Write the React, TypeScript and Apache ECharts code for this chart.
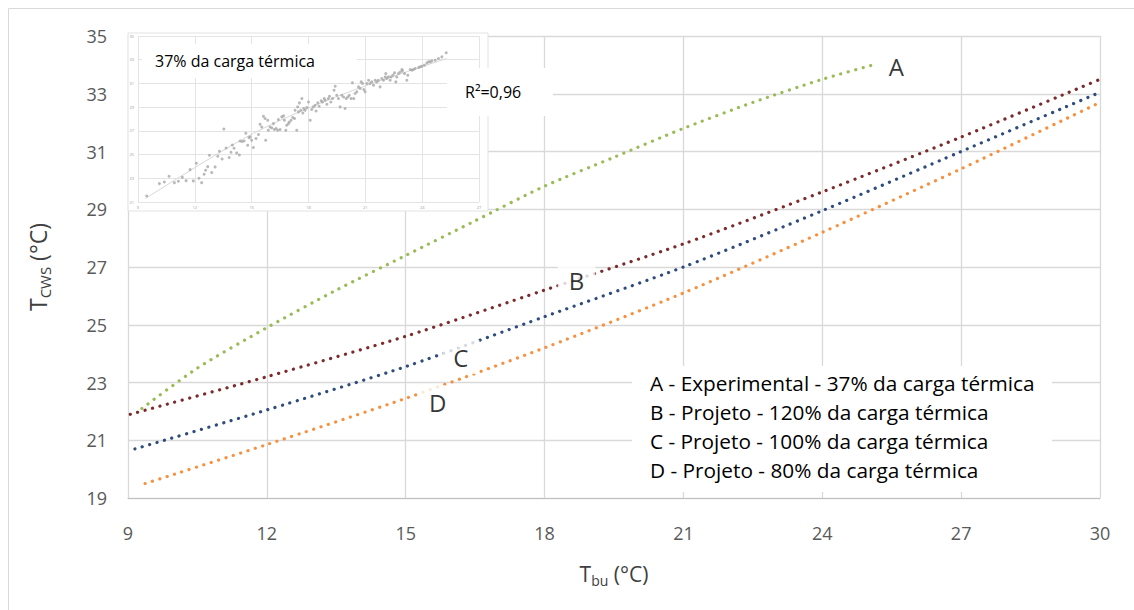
import React, { useEffect, useRef } from "react";
import * as echarts from "echarts";

const FONT = "'Open Sans', 'Noto Sans', sans-serif";

// Main axes
const xMin = 9, xMax = 30, xStep = 3;
const yMin = 19, yMax = 35, yStep = 2;

// Curve A - Experimental 37%
const aX = [9.3, 10.5, 12, 13.5, 15, 16.5, 18, 19.5, 21, 22.5, 24, 25.1];
const aY = [22.1, 23.5, 24.9, 26.2, 27.4, 28.6, 29.8, 30.8, 31.8, 32.7, 33.5, 34.0];
// Curve B - Projeto 120%
const bX = [9.05, 12, 15, 18, 21, 24, 27, 30];
const bY = [21.9, 23.2, 24.6, 26.2, 27.8, 29.6, 31.5, 33.5];
// Curve C - Projeto 100%
const cX = [9.15, 12, 15, 18, 21, 24, 27, 30];
const cY = [20.7, 22.05, 23.55, 25.28, 27.0, 28.95, 31.0, 33.05];
// Curve D - Projeto 80%
const dX = [9.37, 12, 15, 18, 21, 24, 27, 30];
const dY = [19.5, 20.85, 22.45, 24.2, 26.1, 28.2, 30.4, 32.7];

// Curve labels
const labelNames = ["A", "B", "C", "D"];
const labelX = [25.6, 18.69, 16.19, 15.69];
const labelY = [33.96, 26.52, 23.88, 22.32];

const legendLines = [
  "A - Experimental - 37% da carga térmica",
  "B - Projeto - 120% da carga térmica",
  "C - Projeto - 100% da carga térmica",
  "D - Projeto - 80% da carga térmica",
];

// Inset scatter (experimental data)
const insetX = [
  9.46, 10.13, 10.39, 10.64, 10.92, 11.13, 11.34, 11.54, 11.75, 11.92, 12.08, 12.22, 12.36, 12.49, 12.57, 12.68,
  12.77, 12.89, 13.07, 13.21, 13.3, 13.44, 13.53, 13.65, 13.81, 13.91, 13.98, 14.07, 14.21, 14.35, 14.39, 14.49,
  14.6, 14.69, 14.79, 14.86,
  14.92, 15.0, 15.09, 15.23, 15.36, 15.44, 15.53, 15.62, 15.71, 15.74, 15.85, 15.88, 15.97, 16.06, 16.15, 16.2,
  16.29, 16.38, 16.41, 16.5, 16.59, 16.68, 16.73, 16.8, 16.85, 16.94, 16.99, 17.08, 17.17, 17.26, 17.29, 17.38,
  17.43, 17.47, 17.52, 17.59, 17.65, 17.7, 17.75, 17.82, 17.91, 18.0, 18.09, 18.17, 18.26, 18.35, 18.4, 18.49,
  18.56, 18.67, 18.74, 18.83, 18.88, 18.97, 19.05, 19.11, 19.18, 19.27, 19.35, 19.41, 19.49, 19.58, 19.67, 19.76,
  19.85, 19.93, 19.99, 20.08, 20.15, 20.25, 20.32, 20.39, 20.46, 20.55, 20.64, 20.73, 20.78, 20.85, 20.92, 20.99,
  21.08, 21.17,
  21.25, 21.34, 21.43, 21.52, 21.61, 21.69, 21.78, 21.87, 21.96, 22.05, 22.08, 22.13, 22.22, 22.31, 22.36, 22.45,
  22.54, 22.61, 22.66, 22.75, 22.84, 22.93, 22.96, 23.07, 23.19, 23.24, 23.37, 23.46, 23.54, 23.63, 23.81, 23.9,
  23.98, 24.12, 24.25, 24.34, 24.42, 24.51, 24.69, 24.86, 25.04, 25.27,
];
const insetY = [
  21.51, 22.55, 22.69, 23.17, 22.63, 22.75, 23.08, 22.8, 23.73, 22.78, 24.27, 23.0, 22.63, 23.34, 23.68, 23.98,
  24.94, 23.48, 23.96, 24.86, 25.28, 24.63, 27.16, 25.56, 24.75, 25.19, 25.81, 25.53, 25.14, 24.97, 26.15, 26.1,
  26.15, 26.8, 25.78, 26.43,
  26.49, 26.21, 25.59, 26.35, 26.69, 27.56, 27.33, 28.23, 28.04, 26.21, 27.9, 27.05, 27.33, 27.25, 27.61, 27.11,
  27.19, 27.05, 27.95, 27.11, 28.18, 28.26, 27.9, 27.05, 27.47, 27.61, 27.75, 27.9, 28.12, 28.04, 28.74, 27.05,
  29.02, 28.6, 29.36, 28.74, 29.72, 28.51, 28.88, 28.74, 28.96, 29.44, 27.9, 28.8, 29.02, 29.16, 28.68, 29.36,
  29.08, 29.53, 29.44, 29.72, 29.58, 29.25, 29.72, 29.92, 29.44, 29.72, 30.43, 30.76, 30.0, 29.72, 29.02, 30.0,
  29.86, 28.88, 29.72, 29.86, 30.0, 29.72, 31.05, 29.72, 30.15, 30.29, 30.71, 30.57, 31.13, 30.99, 30.48, 30.29,
  30.99, 31.27,
  30.99, 31.13, 30.85, 31.27, 31.13, 31.27, 30.71, 31.41, 31.27, 31.55, 31.83, 31.41, 31.55, 31.27, 31.55, 31.69,
  31.89, 31.13, 31.55, 31.83, 31.97, 32.17, 32.06, 31.83, 31.27, 31.69, 32.17, 32.11, 32.17, 32.26, 32.34, 32.4,
  32.45, 32.54, 32.73, 32.82, 32.82, 32.9, 32.96, 33.1, 33.24, 33.58,
];
const trendX = [9.4, 15.1, 20.0, 25.3];
const trendY = [21.3, 26.8, 30.2, 33.1];

const zip = (xs: number[], ys: number[]) => xs.map((x, i) => [x, ys[i]]);

const dotted = (color: string) => ({
  color,
  width: 3.2,
  type: [0.1, 7.6] as any,
  cap: "round" as const,
});

export default function App() {
  const ref = useRef<HTMLDivElement>(null);
  useEffect(() => {
    if (!ref.current) return;
    const chart = echarts.init(ref.current, undefined, { renderer: "svg" });
    const lineSeries = (name: string, xs: number[], ys: number[], color: string) => ({
      name,
      type: "line",
      xAxisIndex: 0,
      yAxisIndex: 0,
      data: zip(xs, ys),
      showSymbol: false,
      smooth: 0.25,
      lineStyle: dotted(color),
      z: 2,
      silent: true,
    });
    chart.setOption({
      animation: false,
      backgroundColor: "#ffffff",
      textStyle: { fontFamily: FONT },
      grid: [
        { left: 128, right: 34, top: 36, bottom: 112 },
        { left: 138, top: 36, width: 341, height: 166 },
      ],
      xAxis: [
        {
          type: "value",
          gridIndex: 0,
          min: xMin,
          max: xMax,
          interval: xStep,
          axisLine: { show: true, lineStyle: { color: "#BFBFBF", width: 1 } },
          axisTick: { show: false },
          splitLine: { show: true, lineStyle: { color: "#D9D9D9", width: 1.3 } },
          axisLabel: { fontSize: 18, color: "#595959", margin: 26, fontFamily: FONT },
          name: "{t|T}{s|bu}{t| (°C)}",
          nameLocation: "middle",
          nameGap: 63,
          nameTextStyle: {
            rich: {
              t: { fontSize: 21, color: "#404040", fontFamily: FONT, lineHeight: 26 },
              s: { fontSize: 14, color: "#404040", fontFamily: FONT, lineHeight: 14, verticalAlign: "bottom" },
            },
          },
        },
        {
          type: "value",
          gridIndex: 1,
          min: 9,
          max: 27,
          interval: 3,
          z: 3,
          axisLine: { show: false },
          axisTick: { show: false },
          splitLine: { show: true, lineStyle: { color: "#E4E4E4", width: 1 } },
          axisLabel: { fontSize: 4, color: "#9A9A9A", margin: 3 },
        },
      ],
      yAxis: [
        {
          type: "value",
          gridIndex: 0,
          min: yMin,
          max: yMax,
          interval: yStep,
          axisLine: { show: false },
          axisTick: { show: false },
          splitLine: { show: true, lineStyle: { color: "#D9D9D9", width: 1.3 } },
          axisLabel: { fontSize: 18, color: "#595959", margin: 21, fontFamily: FONT },
          name: "{t|T}{s|CWS}{t| (°C)}",
          nameLocation: "middle",
          nameGap: 76,
          nameRotate: 90,
          nameTextStyle: {
            rich: {
              t: { fontSize: 23, color: "#404040", fontFamily: FONT, lineHeight: 28 },
              s: { fontSize: 15, color: "#404040", fontFamily: FONT, lineHeight: 15, verticalAlign: "bottom" },
            },
          },
        },
        {
          type: "value",
          gridIndex: 1,
          min: 21,
          max: 35,
          interval: 2,
          z: 3,
          axisLine: { show: false },
          axisTick: { show: false },
          splitLine: { show: true, lineStyle: { color: "#E4E4E4", width: 1 } },
          axisLabel: { fontSize: 4, color: "#9A9A9A", margin: 4 },
        },
      ],
      series: [
        {
          type: "line",
          xAxisIndex: 1,
          yAxisIndex: 1,
          data: zip(trendX, trendY),
          showSymbol: false,
          smooth: 0.3,
          lineStyle: { color: "#D6D6D6", width: 1 },
          z: 4,
          silent: true,
        },
        {
          type: "scatter",
          xAxisIndex: 1,
          yAxisIndex: 1,
          data: zip(insetX, insetY),
          symbolSize: 3,
          itemStyle: { color: "#A8A8A8" },
          z: 5,
          silent: true,
        },
        lineSeries("A", aX, aY, "#9BBB59"),
        lineSeries("B", bX, bY, "#7B2B2B"),
        lineSeries("C", cX, cY, "#2E4C7C"),
        lineSeries("D", dX, dY, "#F7913F"),
        {
          type: "scatter",
          xAxisIndex: 0,
          yAxisIndex: 0,
          data: labelNames.map((n, i) => ({ name: n, value: [labelX[i], labelY[i]] })),
          symbolSize: 1,
          itemStyle: { color: "rgba(0,0,0,0)" },
          z: 10,
          silent: true,
          label: {
            show: true,
            position: "inside",
            formatter: "{b}",
            fontSize: 24,
            color: "#000000",
            fontFamily: FONT,
            backgroundColor: "#ffffff",
            padding: [5, 11, 5, 11],
          },
        },
      ],
      graphic: [
        {
          type: "rect",
          z: 0,
          silent: true,
          shape: { x: 8.5, y: 8.5, width: 1200, height: 700 },
          style: { fill: "none", stroke: "#D9D9D9", lineWidth: 1 },
        },
        {
          type: "rect",
          z: 1,
          silent: true,
          shape: { x: 128, y: 33, width: 360, height: 178 },
          style: { fill: "#ffffff", stroke: "#E2E2E2", lineWidth: 1 },
        },
        {
          type: "rect",
          z: 6,
          silent: true,
          shape: { x: 142, y: 44, width: 215, height: 34 },
          style: { fill: "#ffffff" },
        },
        {
          type: "text",
          z: 7,
          silent: true,
          x: 155,
          y: 61,
          style: { text: "37% da carga térmica", font: `16px ${FONT}`, fill: "#000000", textVerticalAlign: "middle" },
        },
        {
          type: "rect",
          z: 6,
          silent: true,
          shape: { x: 447, y: 68, width: 106, height: 48 },
          style: { fill: "#ffffff" },
        },
        {
          type: "text",
          z: 7,
          silent: true,
          x: 465,
          y: 92,
          style: { text: "R²=0,96", font: `16px ${FONT}`, fill: "#000000", textVerticalAlign: "middle" },
        },
        {
          type: "rect",
          z: 6,
          silent: true,
          shape: { x: 632, y: 366, width: 420, height: 126 },
          style: { fill: "#ffffff" },
        },
        ...legendLines.map((t, i) => ({
          type: "text",
          z: 7,
          silent: true,
          x: 650,
          y: 383 + i * 29,
          style: { text: t, font: `20.8px ${FONT}`, fill: "#000000", textVerticalAlign: "middle" },
        })),
      ],
    });
    return () => chart.dispose();
  }, []);
  return (
    <div
      ref={ref}
      style={{ position: "absolute", left: 0, top: 0, width: 1134, height: 610, background: "#fff" }}
    />
  );
}
